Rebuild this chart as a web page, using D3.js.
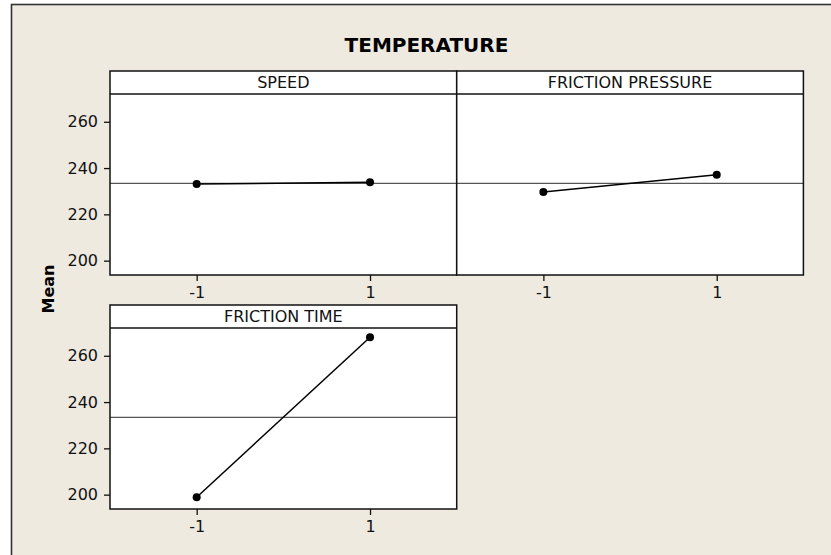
<!DOCTYPE html>
<html><head><meta charset="utf-8">
<script src="https://cdn.jsdelivr.net/npm/d3@7"></script>
<style>html,body{margin:0;padding:0;background:#fff;}svg{display:block;}</style>
</head><body>
<script>
const factors = ["SPEED", "FRICTION PRESSURE", "FRICTION TIME"];
const levels = [-1, 1];
const levelLabels = ["-1", "1"];
const speedMeans = [233.1, 233.9];
const pressureMeans = [229.7, 237.1];
const timeMeans = [198.9, 268.0];
const grandMean = 233.4;
const yTicks = [200, 220, 240, 260];
const seriesValues = [speedMeans, pressureMeans, timeMeans];

const W = 831, H = 555;
const svg = d3.select("body").append("svg").attr("width", W).attr("height", H);
const font = "'DejaVu Sans', Verdana, sans-serif";

// background and frame
svg.append("rect").attr("x", 0).attr("y", 0).attr("width", W).attr("height", H).attr("fill", "#fff");
svg.append("rect").attr("x", 11.5).attr("y", 4.5).attr("width", W + 20).attr("height", H + 20)
  .attr("fill", "#EEEAE0").attr("stroke", "#333").attr("stroke-width", 1.6);

svg.append("text").attr("x", 426.5).attr("y", 52).attr("text-anchor", "middle")
  .attr("font-family", font).attr("font-weight", "bold").attr("font-size", 20)
  .attr("fill", "#000").text("TEMPERATURE");

svg.append("text").attr("transform", "translate(53.5,289) rotate(-90)").attr("text-anchor", "middle")
  .attr("font-family", font).attr("font-weight", "bold").attr("font-size", 16)
  .attr("fill", "#000").text("Mean");

const panelW = 346.7, headerH = 23, plotH = 181;
const cols = [110, 456.7], rows = [71, 305];
const layout = [[0, 0], [1, 0], [0, 1]];

factors.forEach((name, i) => {
  const [c, r] = layout[i];
  const x0 = cols[c], top = rows[r];
  const pTop = top + headerH, pBot = pTop + plotH;
  const x = d3.scaleLinear().domain([-2, 2]).range([x0, x0 + panelW]);
  const y = d3.scaleLinear().domain([193.8, 272]).range([pBot, pTop]);
  const g = svg.append("g");

  g.append("rect").attr("x", x0).attr("y", top).attr("width", panelW).attr("height", headerH + plotH)
    .attr("fill", "#fff");
  g.append("text").attr("x", x0 + panelW / 2).attr("y", top + 17).attr("text-anchor", "middle")
    .attr("font-family", font).attr("font-size", 16).attr("fill", "#111").text(name);

  // mean reference line
  g.append("line").attr("x1", x0).attr("x2", x0 + panelW).attr("y1", y(grandMean)).attr("y2", y(grandMean))
    .attr("stroke", "#555").attr("stroke-width", 1.2);

  // data
  const pts = levels.map((l, k) => [l, seriesValues[i][k]]);
  g.append("path").datum(pts)
    .attr("d", d3.line().x(d => x(d[0])).y(d => y(d[1])))
    .attr("fill", "none").attr("stroke", "#000").attr("stroke-width", 1.5);
  g.selectAll("circle").data(pts).join("circle")
    .attr("cx", d => x(d[0])).attr("cy", d => y(d[1])).attr("r", 4).attr("fill", "#000");

  // borders
  g.append("rect").attr("x", x0).attr("y", top).attr("width", panelW).attr("height", headerH + plotH)
    .attr("fill", "none").attr("stroke", "#111").attr("stroke-width", 1.5);
  g.append("line").attr("x1", x0).attr("x2", x0 + panelW).attr("y1", pTop).attr("y2", pTop)
    .attr("stroke", "#111").attr("stroke-width", 1.5);

  // x axis
  const xa = svg.append("g").attr("transform", `translate(0,${pBot})`)
    .call(d3.axisBottom(x).tickValues(levels).tickFormat((d, k) => levelLabels[k]).tickSize(6).tickPadding(6));
  xa.select(".domain").remove();
  xa.selectAll("line").attr("stroke", "#111").attr("stroke-width", 1.3);
  xa.selectAll("text").attr("font-family", font).attr("font-size", 16).attr("fill", "#111");

  if (c === 0) {
    const ya = svg.append("g").attr("transform", `translate(${x0},0)`)
      .call(d3.axisLeft(y).tickValues(yTicks).tickSize(6).tickPadding(6));
    ya.select(".domain").remove();
    ya.selectAll("line").attr("stroke", "#111").attr("stroke-width", 1.3);
    ya.selectAll("text").attr("font-family", font).attr("font-size", 16).attr("fill", "#111");
  }
});
</script>
</body></html>
